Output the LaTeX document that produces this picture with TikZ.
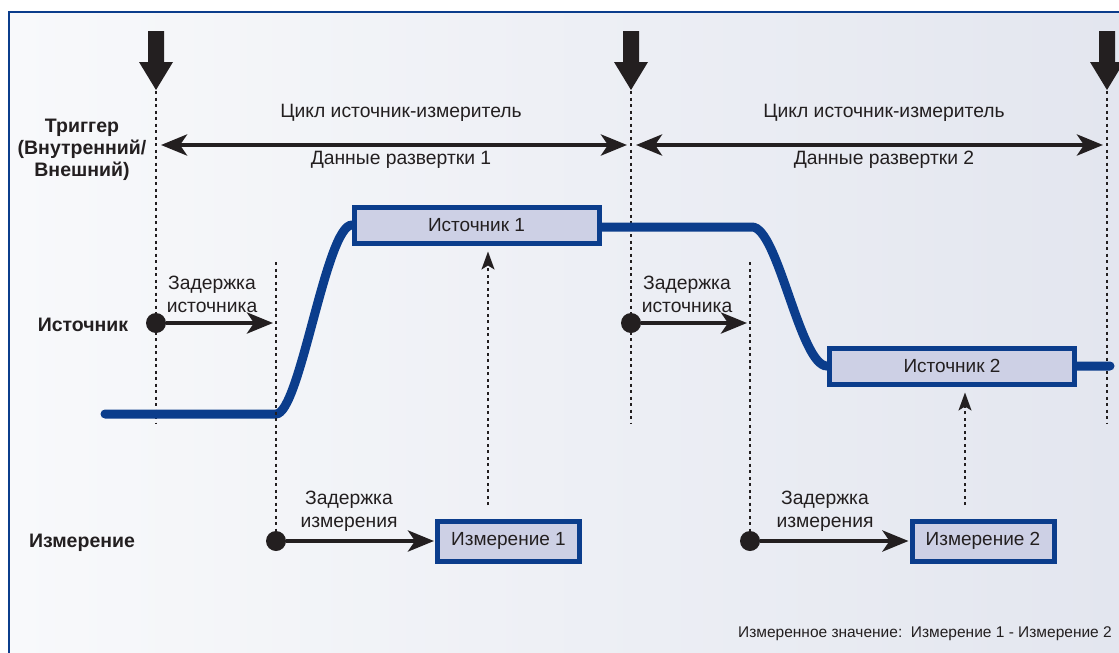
\documentclass[tikz,border=0pt]{standalone}
\usepackage{fontspec}
\setmainfont{Liberation Sans}
\usetikzlibrary{arrows.meta}
\definecolor{navy}{HTML}{0B3D8C}
\definecolor{boxfill}{HTML}{CDD0E5}
\definecolor{ink}{HTML}{231F20}
\definecolor{bgL}{HTML}{F8F9FB}
\definecolor{bgR}{HTML}{E3E6EF}
\begin{document}
\begin{tikzpicture}[x=1pt,y=-1pt,
 lbl/.style={font=\fontsize{19.3}{23}\selectfont, text=ink, align=center, inner sep=0},
 blbl/.style={font=\fontsize{19.5}{22}\selectfont\bfseries, text=ink, align=center, inner sep=0},
 valbox/.style={draw=navy, line width=5pt, fill=boxfill, inner sep=0, font=\fontsize{19}{22}\selectfont, text=ink},
 srcbox/.style={valbox, minimum width=245pt, minimum height=36pt},
 measbox/.style={valbox, minimum width=142pt, minimum height=40pt},
 guide/.style={ink, line width=1.6pt, dash pattern=on 3pt off 3.5pt},
 bigarr/.style={ink, line width=4.5pt, -{Stealth[length=26pt,width=21pt,inset=7pt]}},
 cycarr/.style={ink, line width=4.5pt, {Stealth[length=26pt,width=21pt,inset=7pt]}-{Stealth[length=26pt,width=21pt,inset=7pt]}},
 uparr/.style={guide, -{Stealth[length=18pt,width=13pt,inset=4pt]}},
 dot/.style={circle, fill=ink, minimum size=20pt, inner sep=0},
 wave/.style={navy, line width=9pt, line cap=round}]
\useasboundingbox (0,0) rectangle (1119,653);
\fill[white] (0,0) rectangle (1119,653);
\shade[left color=bgL, right color=bgR] (9,12) rectangle (1119,653);
\draw[navy, line width=2.5pt] (9,653) -- (9,12) -- (1119,12);

% trigger arrows and guide lines
\foreach \x/\n in {156/a,631/b,1107/c}{
  \fill[ink] (\x-8,31) -- (\x+8,31) -- (\x+8,62) -- (\x+17,62) -- (\x,90) -- (\x-17,62) -- (\x-8,62) -- cycle;
  \coordinate (t\n) at (\x,91);
  \coordinate (g\n) at (\x,423);
  \draw[guide] (t\n) -- (g\n);
}

% cycle arrows
\coordinate (c1a) at (161,145); \coordinate (c1b) at (627,145);
\coordinate (c2a) at (636,145); \coordinate (c2b) at (1103,145);
\draw[cycarr] (c1a) -- (c1b);
\draw[cycarr] (c2a) -- (c2b);
\node[lbl] (cyc1) at (401,113) {Цикл источник-измеритель};
\node[lbl] (dat1) at (401,160) {Данные развертки 1};
\node[lbl] (cyc2) at (884,113) {Цикл источник-измеритель};
\node[lbl] (dat2) at (884,160) {Данные развертки 2};

% left labels
\node[blbl] (trig) at (82,150) {Триггер\\(Внутренний/\\Внешний)};
\node[blbl] (srclbl) at (83,325) {Источник};
\node[blbl] (measlbl) at (82,543) {Измерение};

% source waveform
\coordinate (w0) at (105,414);
\coordinate (w1) at (276,414);
\coordinate (w2) at (352,225);
\coordinate (w3) at (752,227);
\coordinate (w4) at (827,366);
\coordinate (w5) at (1110,366);
\draw[wave] (w0) -- (w1) .. controls (300,414) and (326,225) .. (w2) -- (476,225) -- (601,227) -- (w3)
  .. controls (778,227) and (800,366) .. (w4) -- (w5);

\node[srcbox] (src1) at (476.5,225) {Источник 1};
\node[srcbox] (src2) at (952,366) {Источник 2};

% source delays
\coordinate (sg1a) at (276,262); \coordinate (sg1b) at (276,541);
\coordinate (sg2a) at (750,262); \coordinate (sg2b) at (750,541);
\draw[guide] (sg1a) -- (sg1b);
\draw[guide] (sg2a) -- (sg2b);
\node[dot] (sd1) at (156,323) {};
\node[dot] (sd2) at (631,323) {};
\coordinate (se1) at (273,323);
\coordinate (se2) at (747,323);
\draw[bigarr] (sd1) -- (se1);
\draw[bigarr] (sd2) -- (se2);
\node[lbl] (sdl1) at (212,294) {Задержка\\источника};
\node[lbl] (sdl2) at (687,294) {Задержка\\источника};

% measurement
\node[measbox] (meas1) at (508.5,541) {Измерение 1};
\node[measbox] (meas2) at (983,541) {Измерение 2};
\node[dot] (md1) at (276,541) {};
\node[dot] (md2) at (750,541) {};
\draw[bigarr, shorten >=1pt] (md1) -- (meas1);
\draw[bigarr, shorten >=1pt] (md2) -- (meas2);
\node[lbl] (mdl1) at (349,511) {Задержка\\измерения};
\node[lbl] (mdl2) at (825,511) {Задержка\\измерения};

% upward dotted arrows
\coordinate (u1) at (488,505);
\coordinate (u2) at (965,505);
\draw[uparr, shorten >=6pt] (u1) -- (u1 |- src1.south);
\draw[uparr, shorten >=6pt] (u2) -- (u2 |- src2.south);

\node[anchor=east, font=\fontsize{15.5}{18}\selectfont, text=ink, inner sep=0] (note) at (1112,634) {Измеренное значение:\ \ Измерение 1 - Измерение 2};
\end{tikzpicture}
\end{document}
